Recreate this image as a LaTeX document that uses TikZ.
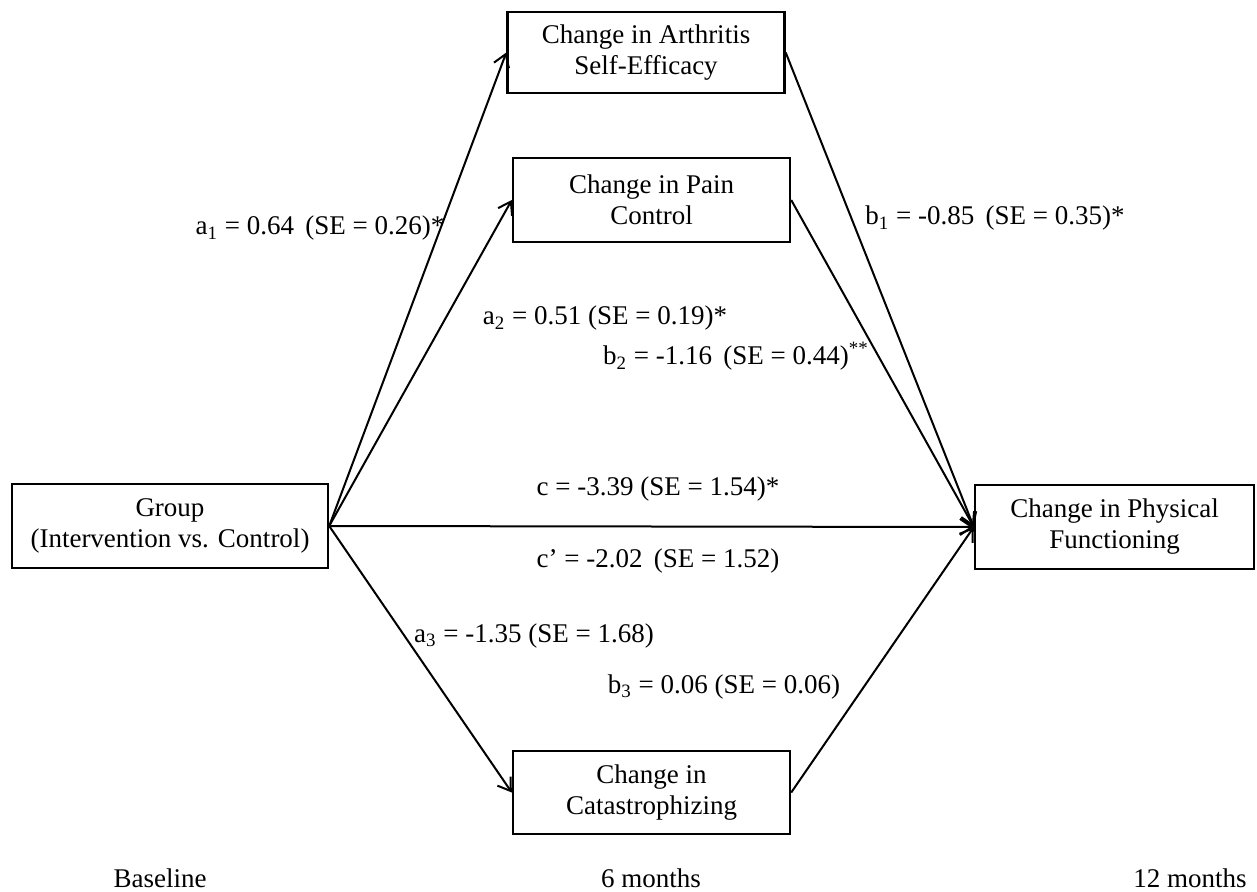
\documentclass[tikz,border=0pt]{standalone}
\usepackage{fontspec}
\setmainfont{Liberation Serif}
\usepackage{tikz}
\usetikzlibrary{arrows.meta}

\begin{document}
\begin{tikzpicture}[x=0.5pt, y=-0.5pt, line width=1pt,
    font=\fontsize{13.5}{15.5}\selectfont,
    medbox/.style={draw, line width=1.2pt, align=center,
      minimum width=138.5pt, minimum height=42pt, inner sep=0pt},
    pathlbl/.style={anchor=base, inner sep=0pt},
    arr/.style={-{Straight Barb[length=6pt, width=8pt]}}]
  \useasboundingbox (0,0) rectangle (1257,892);
  \node[medbox, minimum width=158pt] (group) at (170,526)
    {Group\\(Intervention vs. Control)};
  \node[medbox, minimum height=40.5pt] (selfeff) at (646,52.5)
    {Change in Arthritis\\Self-Efficacy};
  \node[medbox] (pain) at (651.5,200) {Change in Pain\\Control};
  \node[medbox, minimum height=41.5pt] (catas) at (651.5,792.5)
    {Change in\\Catastrophizing};
  \node[medbox, minimum width=139.5pt] (physfn) at (1114.5,527)
    {Change in Physical\\Functioning};

  % paths
  \draw[arr] (group.east) -- (selfeff.west);
  \draw[arr] (group.east) -- (pain.west);
  \draw[arr] (group.east) -- (catas.west);
  \draw[arr] (group.east) -- (physfn.west);
  \draw[arr] (selfeff.east) -- (physfn.west);
  \draw[arr] (pain.east) -- (physfn.west);
  \draw[arr] (catas.east) -- (physfn.west);

  % coefficients
  \node[pathlbl] (lblaone) at (320,235)
    {a\textsubscript{1} = 0.64 \,(SE = 0.26)*};
  \node[pathlbl] (lblbone) at (995,225)
    {b\textsubscript{1} = -0.85 \,(SE = 0.35)*};
  \node[pathlbl] (lblatwo) at (605,325)
    {a\textsubscript{2} = 0.51 (SE = 0.19)*};
  \node[pathlbl] (lblbtwo) at (736,365)
    {b\textsubscript{2} = -1.16 \,(SE = 0.44)\textsuperscript{**}};
  \node[pathlbl] (lblc) at (658,495) {c = -3.39 (SE = 1.54)*};
  \node[pathlbl] (lblcp) at (658,567) {c’ = -2.02 \,(SE = 1.52)};
  \node[pathlbl] (lblathree) at (534,642)
    {a\textsubscript{3} = -1.35 (SE = 1.68)};
  \node[pathlbl] (lblbthree) at (724,693)
    {b\textsubscript{3} = 0.06 (SE = 0.06)};

  % time points
  \node[pathlbl] (tbase) at (160,887) {Baseline};
  \node[pathlbl] (tsix) at (651,887) {6 months};
  \node[pathlbl] (ttwelve) at (1190,887) {12 months};
\end{tikzpicture}
\end{document}
